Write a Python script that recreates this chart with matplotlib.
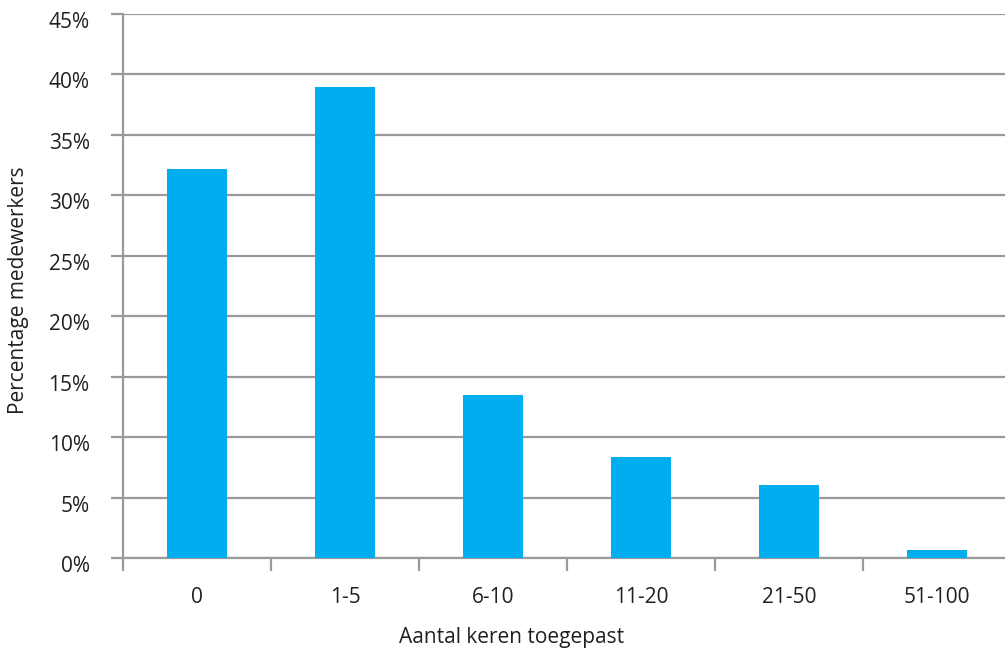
import matplotlib
matplotlib.use("Agg")
import matplotlib.pyplot as plt
import matplotlib.transforms as mtransforms
import numpy as np

# data
categorieen = ["0", "1-5", "6-10", "11-20", "21-50", "51-100"]
percentages = [32.2, 39.0, 13.5, 8.35, 6.0, 0.66]
y_ticks = [0, 5, 10, 15, 20, 25, 30, 35, 40, 45]

plt.rcParams['font.family'] = ['Open Sans', 'DejaVu Sans']
grijs = "#9a9a9c"
blauw = "#00aeef"
tekst = "#231f20"
fs = 15

W, H = 1005, 655
fig = plt.figure(figsize=(W / 100, H / 100), dpi=100)
# axes: x 123..1011 px, y 14..558 px
ax = fig.add_axes([123 / W, (H - 558) / H, (1011 - 123) / W, (558 - 14) / H])

x = np.arange(len(categorieen))
ax.bar(x, percentages, width=0.4, color=blauw, zorder=3)

ax.set_xlim(-0.5, len(categorieen) - 0.5)
ax.set_ylim(0, 45)
ax.set_yticks(y_ticks)
ax.set_yticklabels([f"{v}%" for v in y_ticks])
ax.yaxis.grid(True, color=grijs, linewidth=1.6, zorder=0)

# ticks between categories
ax.set_xticks(np.arange(len(categorieen) + 1) - 0.5, minor=False)
ax.set_xticklabels([])
ax.set_xticks(x, minor=True)
ax.set_xticklabels(categorieen, minor=True)
ax.tick_params(axis="x", which="major", length=9, width=1.6, color=grijs, direction="out")
ax.tick_params(axis="x", which="minor", length=0, pad=21, labelsize=fs, labelcolor=tekst)
ax.tick_params(axis="y", length=9, width=1.6, color=grijs, pad=15, labelsize=fs, labelcolor=tekst)

# y labels sit a little below the gridline
offset = mtransforms.ScaledTranslation(0, -6 / 100, fig.dpi_scale_trans)
for lbl in ax.get_yticklabels():
    lbl.set_transform(lbl.get_transform() + offset)

for s in ["top", "right"]:
    ax.spines[s].set_visible(False)
for s in ["left", "bottom"]:
    ax.spines[s].set_color(grijs)
    ax.spines[s].set_linewidth(1.6)

ax.set_xlabel("Aantal keren toegepast", fontsize=fs, color=tekst, va="center", ha="center")
ax.xaxis.set_label_coords((512 - 123) / (1011 - 123), -(637 - 558) / (558 - 14))
ax.set_ylabel("Percentage medewerkers", fontsize=fs, color=tekst, va="center", ha="center")
ax.yaxis.set_label_coords(-(123 - 19) / (1011 - 123), (558 - 290) / (558 - 14))

fig.savefig("out.png", dpi=100)
